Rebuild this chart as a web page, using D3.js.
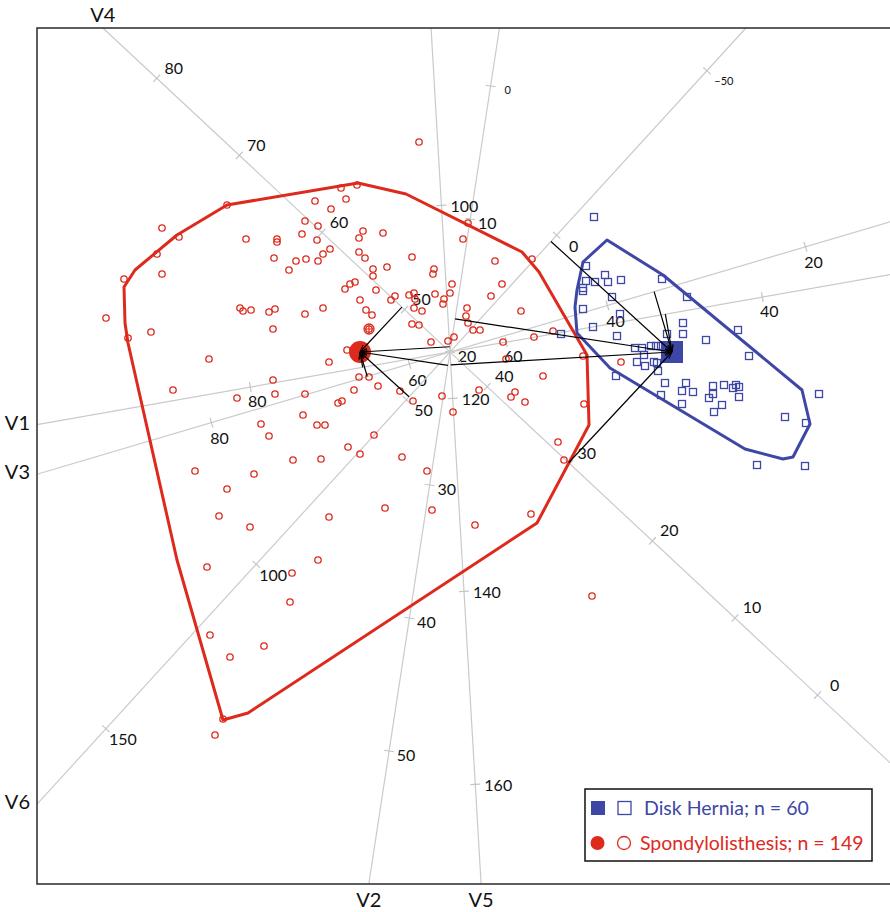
<!DOCTYPE html>
<html>
<head>
<meta charset="utf-8">
<script src="https://cdn.jsdelivr.net/npm/d3@7"></script>
<style>
body{margin:0;background:#fff;}
svg{display:block;font-family:Lato,"Noto Sans",sans-serif;}
</style>
</head>
<body>
<svg id="svg" width="890" height="912"></svg>
<script>
// biplot scores (x, y in biplot units)
const redPoints = [
[-0.31,2.10],[-1.09,1.64],[-0.93,1.67],[-1.35,1.51],[-1.04,1.53],[-1.19,1.43],[-1.45,1.31],[-1.32,1.26],
[-1.48,1.18],[-1.33,1.12],[-1.20,1.03],[-1.27,0.98],[-1.32,0.91],[-1.44,0.93],[-1.54,0.91],[-1.61,0.82],
[-1.76,0.94],[-2.04,1.13],[-1.73,1.13],[-1.73,1.10],[-2.23,1.47],[-2.88,1.24],[-2.71,1.15],[-2.93,0.98],
[-2.88,0.78],[-3.26,0.73],[-0.87,1.21],[-0.91,1.14],[-0.67,1.19],[-0.91,1.00],[-0.85,0.94],[-0.77,0.83],
[-0.77,0.76],[-0.63,0.85],[-0.38,0.95],[-0.16,0.83],[-0.17,0.78],[0.18,1.29],[0.13,1.13],[0.02,0.68],
[0.00,0.59],[-0.06,0.53],[-0.07,0.48],[-0.15,0.58],[-1.00,0.68],[-0.95,0.70],[-1.05,0.63],[-0.74,0.62],
[-0.90,0.52],[-0.59,0.52],[-0.55,0.56],[-0.41,0.57],[-0.36,0.59],[-0.35,0.53],[-0.36,0.44],[-0.28,0.41],
[-0.84,0.42],[-0.78,0.37],[-1.27,0.44],[-1.45,0.38],[-0.81,0.23],[-0.38,0.28],[-0.31,0.27],[-0.19,0.10],
[-0.02,0.11],[0.04,0.15],[0.17,0.44],[0.16,0.36],[0.18,0.29],[0.23,0.22],[0.30,0.22],[-1.03,0.02],
[-1.21,-0.10],[-0.91,-0.25],[-0.81,-0.25],[-0.96,-0.38],[-0.72,-0.34],[-0.50,-0.39],[-0.37,-0.49],[-0.08,-0.44],
[0.03,-0.60],[-1.45,-0.42],[-1.12,-0.51],[-1.08,-0.49],[-1.47,-0.63],[-1.33,-0.73],[-1.25,-0.73],[0.45,0.91],
[0.82,0.93],[0.52,0.68],[0.41,0.56],[0.71,0.41],[1.03,0.21],[0.84,0.15],[0.53,0.10],[0.56,-0.07],
[0.93,-0.24],[1.33,-0.04],[0.29,-0.38],[0.65,-0.40],[0.61,-0.45],[0.75,-0.50],[1.34,-0.52],[1.08,-0.90],
[1.14,-1.08],[1.71,-0.10],[0.81,-1.62],[0.25,-1.73],[1.42,-2.44],[-2.10,0.44],[-2.07,0.41],[-1.99,0.42],
[-1.81,0.40],[-1.75,0.43],[-1.77,0.23],[-3.44,0.34],[-3.22,0.14],[-2.99,0.20],[-2.41,-0.07],[-2.77,-0.38],
[-1.77,-0.28],[-2.13,-0.46],[-1.75,-0.42],[-1.89,-0.72],[-1.81,-0.84],[-0.76,-0.83],[-1.02,-0.95],[-0.90,-1.02],
[-0.48,-1.05],[-1.57,-1.08],[-1.29,-1.07],[-2.55,-1.19],[-1.96,-1.22],[-0.23,-1.19],[-2.23,-1.37],[-0.65,-1.56],
[-0.18,-1.58],[-2.31,-1.64],[-1.21,-1.65],[-2.00,-1.75],[-1.32,-2.08],[-2.43,-2.15],[-1.58,-2.21],[-1.60,-2.50],
[-2.40,-2.83],[-1.86,-2.94],[-2.20,-3.05],[-2.35,-3.83],[-2.27,-3.67]
];
const redCrossed = [[-0.81,0.23]];

const bluePoints = [
[1.44,1.35],[1.36,0.86],[1.36,0.71],[1.45,0.70],[1.55,0.77],[1.58,0.70],[1.71,0.72],[1.33,0.64],
[1.33,0.61],[2.12,0.73],[2.37,0.55],[1.62,0.55],[1.33,0.43],[1.70,0.38],[1.43,0.25],[1.11,0.18],
[1.67,0.16],[2.17,0.18],[2.33,0.29],[2.33,0.18],[2.56,0.12],[2.88,0.22],[2.99,-0.04],[1.85,0.04],
[1.92,0.04],[2.01,0.06],[2.06,0.06],[2.11,0.06],[1.94,-0.03],[1.87,-0.10],[1.95,-0.14],[2.04,-0.10],
[2.07,-0.11],[2.08,-0.19],[1.66,-0.24],[2.15,-0.31],[2.36,-0.31],[2.11,-0.43],[2.32,-0.39],[2.43,-0.40],
[2.63,-0.34],[2.74,-0.33],[2.86,-0.33],[2.83,-0.36],[2.89,-0.35],[2.63,-0.42],[2.59,-0.46],[2.89,-0.45],
[2.32,-0.52],[2.72,-0.53],[2.64,-0.60],[3.35,-0.65],[3.56,-0.71],[3.69,-0.42],[3.07,-1.13],[3.55,-1.14],
[2.18,0.05],[2.25,0.02],[2.20,-0.05],[2.27,-0.03]
];

const redMean = [-0.90, 0.00];
const blueMean = [2.22, 0.00];

const redHull = [
[-3.26,0.65],[-3.15,0.82],[-2.73,1.17],[-2.23,1.47],[-0.92,1.69],[-0.44,1.58],[0.72,1.00],[0.89,0.80],
[1.37,-0.03],[1.39,-0.73],[0.87,-1.71],[-2.02,-3.61],[-2.27,-3.68],[-2.73,-2.08],[-3.22,0.09],[-3.25,0.29]
];
const blueHull = [
[1.57,1.12],[2.13,0.77],[3.52,-0.38],[3.60,-0.72],[3.43,-1.05],[3.33,-1.07],[2.95,-0.97],[1.60,-0.16],
[1.27,0.19],[1.25,0.45],[1.27,0.62],[1.33,0.90]
];

// calibrated axes: value at the origin and shift (x, y) per unit of the variable
const axisNames  = ["V1","V2","V3","V4","V5","V6"];
const axisCentre = [64.4, 20, 55.9, 44.5, 115.2, 35.5];
const axisStep   = [[-0.128,-0.0225],[-0.0203,-0.133],[-0.099,-0.0293],[-0.0826,0.0771],[0.00564,-0.0965],[-0.03005,-0.0329]];
const axisTicks  = [[40,60,80],[0,10,20,30,40,50],[20,40,60,80],[0,10,20,30,40,50,60,70,80],[100,120,140,160],[-50,0,50,100,150]];
const smallTicks = [[],[0],[],[],[],[-50]];
const labelShift = [[7,13],[17,3],[8,15],[17,-11],[23,0],[17,10]];

const legendNames = ["Disk Hernia; n = 60","Spondylolisthesis; n = 149"];

const RED = "#dd2a1d", BLUE = "#3e47a6";
const fLeft = 37, fTop = 28, fBottom = 884, fRight = 892;

const svg = d3.select("#svg");
const x = d3.scaleLinear().domain([-4.13, 4.40]).range([37, 890]);
const y = d3.scaleLinear().domain([-5.32, 3.24]).range([884, 28]);

const defs = svg.append("defs");
defs.append("marker").attr("id","arr").attr("viewBox","0 0 10 10")
    .attr("refX",10).attr("refY",5).attr("markerWidth",6).attr("markerHeight",6)
    .attr("orient","auto")
  .append("path").attr("d","M0,1.5L10,5L0,8.5").attr("fill","none").attr("stroke","#000").attr("stroke-width",1.2);

// clip an axis line to the frame, in units of the variable relative to the origin
const clip = (d) =>
{
    let t0 = -Infinity, t1 = Infinity;
    const box = [[d[0], x.invert(fLeft), x.invert(fRight)], [d[1], y.invert(fBottom), y.invert(fTop)]];
    box.forEach(([k, lo, hi]) => {
        if (k === 0) return;
        let a = lo / k, b = hi / k;
        if (a > b) [a, b] = [b, a];
        t0 = Math.max(t0, a); t1 = Math.min(t1, b);
    });
    return [t0, t1];
};

const gAxes = svg.append("g");
axisNames.forEach((name, i) =>
{
    const d = axisStep[i], c = axisCentre[i];
    const [t0, t1] = clip(d);
    const x1 = x(t0*d[0]), y1 = y(t0*d[1]), x2 = x(t1*d[0]), y2 = y(t1*d[1]);
    gAxes.append("line").attr("x1",x1).attr("y1",y1).attr("x2",x2).attr("y2",y2)
        .attr("stroke","#cacaca").attr("stroke-width",1.2);

    // pixel direction and normal for tick marks
    const len = Math.hypot(x2-x1, y2-y1);
    const nx = -(y2-y1)/len, ny = (x2-x1)/len;
    axisTicks[i].forEach(v =>
    {
        const t = v - c;
        if (t < t0 || t > t1) return;
        const px = x(t*d[0]), py = y(t*d[1]);
        gAxes.append("line").attr("x1",px-nx*5).attr("y1",py-ny*5).attr("x2",px+nx*5).attr("y2",py+ny*5)
            .attr("stroke","#c4c4c4").attr("stroke-width",1.2);
        const small = smallTicks[i].includes(v);
        gAxes.append("text").attr("x",px+labelShift[i][0]).attr("y",py+labelShift[i][1])
            .attr("text-anchor","middle").attr("dominant-baseline","central")
            .style("font-size", small ? "11px" : "16px").style("fill","#111")
            .text(v < 0 ? "\u2212" + Math.abs(v) : v);
    });

    // variable name at the high end of the axis
    const lbl = gAxes.append("text").style("font-size","20px").style("fill","#111").text(name);
    if (Math.abs(x2 - fLeft) < 1)
        lbl.attr("x", fLeft-7).attr("y", y2-3).attr("text-anchor","end").attr("dominant-baseline","central");
    else if (Math.abs(y2 - fTop) < 1)
        lbl.attr("x", x2).attr("y", fTop-6).attr("text-anchor","middle");
    else
        lbl.attr("x", x2).attr("y", fBottom+23).attr("text-anchor","middle");
});

// hulls
const hullLine = d3.line().x(p => x(p[0])).y(p => y(p[1])).curve(d3.curveLinearClosed);
svg.append("path").attr("d", hullLine(redHull)).attr("fill","none").attr("stroke",RED).attr("stroke-width",3).attr("stroke-linejoin","round");
svg.append("path").attr("d", hullLine(blueHull)).attr("fill","none").attr("stroke",BLUE).attr("stroke-width",3).attr("stroke-linejoin","round");

// points
svg.append("g").selectAll("circle").data(redPoints).join("circle")
    .attr("cx", p => x(p[0])).attr("cy", p => y(p[1])).attr("r",3.2)
    .attr("fill","none").attr("stroke",RED).attr("stroke-width",1.3);
redCrossed.forEach(p =>
{
    const cx = x(p[0]), cy = y(p[1]);
    svg.append("circle").attr("cx",cx).attr("cy",cy).attr("r",5).attr("fill","none").attr("stroke",RED).attr("stroke-width",1.3);
    svg.append("path").attr("d",`M${cx-5},${cy}H${cx+5}M${cx},${cy-5}V${cy+5}`).attr("stroke",RED).attr("stroke-width",1.2);
});
svg.append("g").selectAll("rect").data(bluePoints).join("rect")
    .attr("x", p => x(p[0])-3.5).attr("y", p => y(p[1])-3.5).attr("width",7).attr("height",7)
    .attr("fill","none").attr("stroke",BLUE).attr("stroke-width",1.3);

// group means
svg.append("circle").attr("cx",x(redMean[0])).attr("cy",y(redMean[1])).attr("r",11).attr("fill",RED);
svg.append("rect").attr("x",x(blueMean[0])-11).attr("y",y(blueMean[1])-11).attr("width",22).attr("height",22).attr("fill",BLUE);

// projections of each mean onto every axis
[redMean, blueMean].forEach(m =>
{
    axisStep.forEach(d =>
    {
        const n = Math.hypot(d[0], d[1]);
        const ux = d[0]/n, uy = d[1]/n;
        const s = m[0]*ux + m[1]*uy;
        svg.append("line").attr("x1",x(s*ux)).attr("y1",y(s*uy)).attr("x2",x(m[0])).attr("y2",y(m[1]))
            .attr("stroke","#000").attr("stroke-width",1.2).attr("marker-end","url(#arr)");
    });
});

// frame
svg.append("path").attr("d",`M${fRight},${fTop}H${fLeft}V${fBottom}H${fRight}`)
    .attr("fill","none").attr("stroke","#2a2a2a").attr("stroke-width",1.5);

// legend
const lg = svg.append("g");
lg.append("rect").attr("x",585).attr("y",789).attr("width",287).attr("height",72)
    .attr("fill","#fff").attr("stroke","#111").attr("stroke-width",1.5);
lg.append("rect").attr("x",591).attr("y",801).attr("width",14).attr("height",14).attr("fill",BLUE);
lg.append("rect").attr("x",618).attr("y",801.5).attr("width",13).attr("height",13).attr("fill","none").attr("stroke",BLUE).attr("stroke-width",1.3);
lg.append("text").attr("x",644).attr("y",815).style("font-size","19.5px").style("fill",BLUE).text(legendNames[0]);
lg.append("circle").attr("cx",597.5).attr("cy",843).attr("r",7).attr("fill",RED);
lg.append("circle").attr("cx",624).attr("cy",843).attr("r",6.5).attr("fill","none").attr("stroke",RED).attr("stroke-width",1.3);
lg.append("text").attr("x",640).attr("y",850).style("font-size","19.5px").style("fill",RED).text(legendNames[1]);
</script>
</body>
</html>
